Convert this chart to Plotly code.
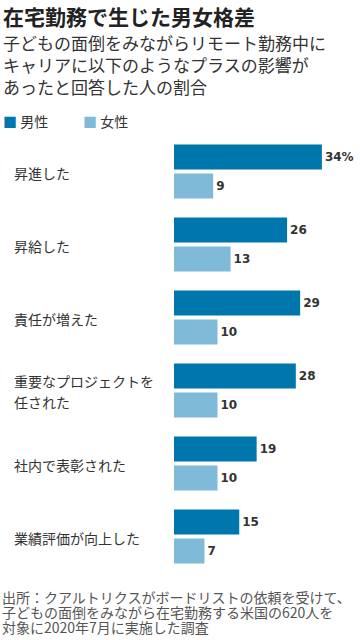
import plotly.graph_objects as go

# ---- data ----
categories = ["昇進した", "昇給した", "責任が増えた", "重要なプロジェクトを\n任された", "社内で表彰された", "業績評価が向上した"]
male = [34, 26, 29, 28, 19, 15]
female = [9, 13, 10, 10, 10, 7]
series_names = ["男性", "女性"]
title = "在宅勤務で生じた男女格差"
subtitle = ["子どもの面倒をみながらリモート勤務中に", "キャリアに以下のようなプラスの影響が", "あったと回答した人の割合"]
source = ["出所：クアルトリクスがボードリストの依頼を受けて、", "子どもの面倒をみながら在宅勤務する米国の620人を", "対象に2020年7月に実施した調査"]

# ---- style ----
W, H = 360, 640
ML, MR, MT, MB = 174, 12, 135, 67
C_MALE = "#0077ac"
C_FEMALE = "#7fbad8"
JP = "Noto Sans CJK JP"
NUM = "DejaVu Sans"
PW = W - ML - MR
PH = H - MT - MB


def px_x(px):
    return (px - ML) / PW


def px_y(py):
    return (H - MB - py) / PH


cat_keys = [c.replace("\n", " ") for c in categories]

male_text = [f"{v}%" if i == 0 else f"{v}" for i, v in enumerate(male)]
female_text = [f"{v}" for v in female]

fig = go.Figure()
fig.add_trace(go.Bar(
    y=cat_keys, x=male, orientation="h", name=series_names[0],
    marker=dict(color=C_MALE, line=dict(width=0)),
    text=male_text, textposition="outside", cliponaxis=False,
    textfont=dict(family=NUM, size=12, color="#333333", weight="bold"),
    hoverinfo="skip",
))
fig.add_trace(go.Bar(
    y=cat_keys, x=female, orientation="h", name=series_names[1],
    marker=dict(color=C_FEMALE, line=dict(width=0)),
    text=female_text, textposition="outside", cliponaxis=False,
    textfont=dict(family=NUM, size=12, color="#333333", weight="bold"),
    hoverinfo="skip",
))

annotations = []
# title
annotations.append(dict(x=px_x(2), y=px_y(0), xref="paper", yref="paper", xanchor="left", yanchor="top",
                        borderpad=0, text=f"<b>{title}</b>", showarrow=False,
                        font=dict(family=JP, size=21, color="#222222")))
# subtitle (one block)
annotations.append(dict(x=px_x(1), y=px_y(64), xref="paper", yref="paper", xanchor="left",
                        yanchor="middle", align="left", text="<br>".join(subtitle), showarrow=False,
                        font=dict(family=JP, size=17, color="#333333")))
# legend
for name, color, lx in zip(series_names, [C_MALE, C_FEMALE], [1, 81]):
    annotations.append(dict(x=px_x(lx), y=px_y(121), xref="paper", yref="paper", xanchor="left",
                            yanchor="middle",
                            text=f"<span style='color:{color}'>■</span> {name}", showarrow=False,
                            font=dict(family=JP, size=14, color="#333333")))
# category labels
for key, cat in zip(cat_keys, categories):
    lines = cat.split("\n")
    n = len(lines)
    for j, ln in enumerate(lines):
        annotations.append(dict(x=px_x(12), y=key, xref="paper", yref="y", xanchor="left", yanchor="middle",
                                yshift=-(j - (n - 1) / 2) * 21 - 1,
                                text=ln, showarrow=False,
                                font=dict(family=JP, size=14, color="#333333")))
# source
for i, line in enumerate(source):
    annotations.append(dict(x=px_x(1), y=px_y(597 + i * 15), xref="paper", yref="paper", xanchor="left",
                            yanchor="middle", borderpad=0, text=line, showarrow=False,
                            font=dict(family=JP, size=14, color="#555555")))

fig.update_layout(
    width=W, height=H,
    margin=dict(l=ML, r=MR, t=MT, b=MB, pad=0),
    paper_bgcolor="white", plot_bgcolor="white",
    barmode="group", bargap=0.205, bargroupgap=0.138,
    showlegend=False,
    xaxis=dict(range=[0, 40], visible=False, fixedrange=True),
    yaxis=dict(type="category", categoryorder="array", categoryarray=cat_keys, autorange="reversed",
               showticklabels=False, showgrid=False, zeroline=False, showline=False, ticks="",
               fixedrange=True),
    annotations=annotations,
    font=dict(family=JP),
)

fig.write_html("out.html", config={"displayModeBar": False},
               post_script="document.body.style.margin='0';document.body.style.overflow='hidden';")
